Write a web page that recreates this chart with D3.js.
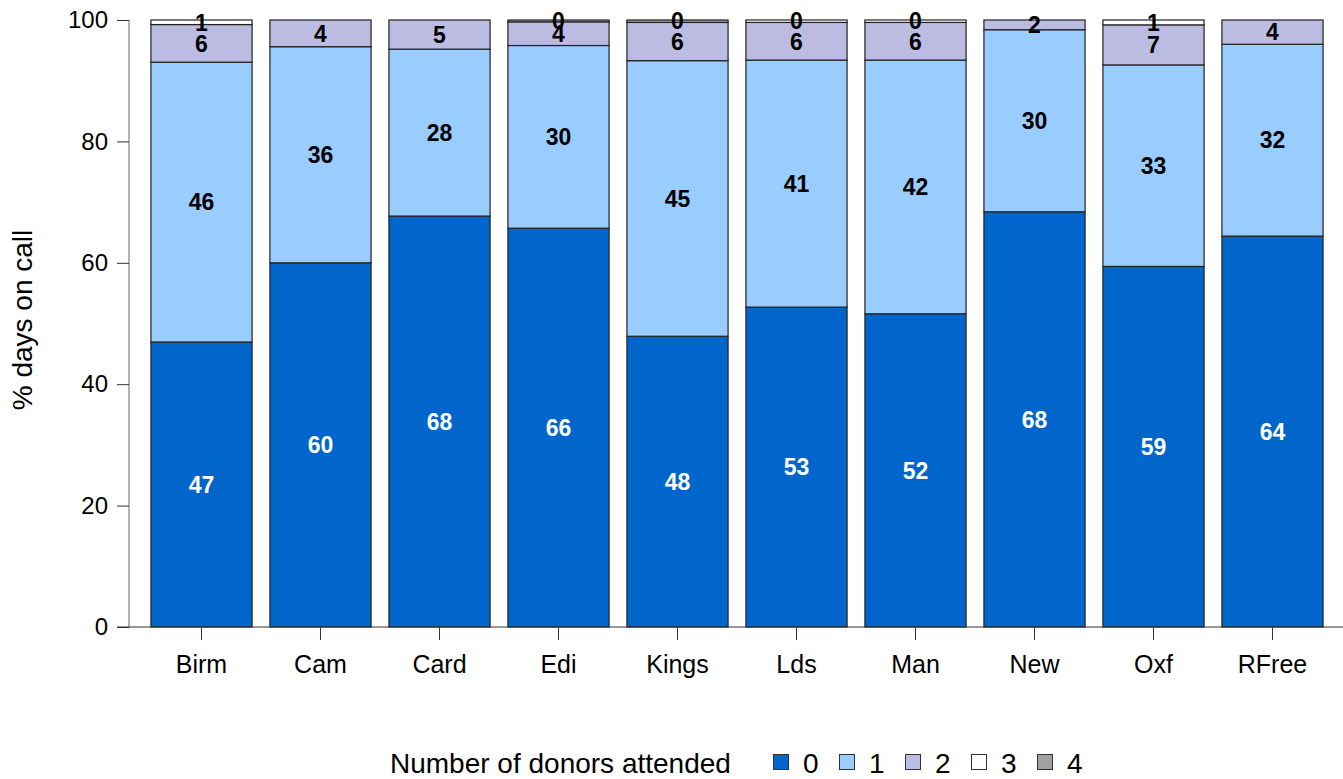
<!DOCTYPE html>
<html>
<head>
<meta charset="utf-8">
<script src="https://cdn.jsdelivr.net/npm/d3@7"></script>
<style>
  body { margin: 0; background: #fff; }
  svg { display: block; font-family: Arial, "Liberation Sans", sans-serif; }
</style>
</head>
<body>
<svg width="1343" height="779"></svg>
<script>
// categories and series (percent of days on call by number of donors attended)
const centres = ["Birm", "Cam", "Card", "Edi", "Kings", "Lds", "Man", "New", "Oxf", "RFree"];
const donors0 = [46.95, 60.0, 67.7, 65.7, 47.9, 52.7, 51.6, 68.4, 59.4, 64.4];
const donors1 = [46.1, 35.6, 27.5, 30.1, 45.4, 40.7, 41.8, 30.0, 33.2, 31.6];
const donors2 = [6.2, 4.4, 4.8, 3.9, 6.3, 6.2, 6.2, 1.6, 6.6, 4.0];
const donors3 = [0.75, 0, 0, 0, 0, 0.4, 0.4, 0, 0.8, 0];
const donors4 = [0, 0, 0, 0.3, 0.4, 0, 0, 0, 0, 0];
const seriesKeys = ["0", "1", "2", "3", "4"];
const seriesColors = ["#0066cc", "#99ccff", "#bcbce2", "#ffffff", "#a0a0a0"];
const yTicks = [0, 20, 40, 60, 80, 100];

const svg = d3.select("svg");

const table = centres.map((c, i) => ({
    centre: c,
    "0": donors0[i], "1": donors1[i], "2": donors2[i], "3": donors3[i], "4": donors4[i]
}));
const stacked = d3.stack().keys(seriesKeys)(table);

const x = d3.scaleBand()
    .domain(centres)
    .range([142, 1332])
    .paddingInner(0.15)
    .paddingOuter(0.075);

const y = d3.scaleLinear()
    .domain([0, 100])
    .range([627, 20]);

// bars
const layers = svg.append("g").selectAll("g")
    .data(stacked)
    .enter().append("g")
    .attr("fill", (d, i) => seriesColors[i]);

layers.selectAll("rect")
    .data(d => d.filter(s => s[1] - s[0] > 0))
    .enter().append("rect")
    .attr("x", d => x(d.data.centre))
    .attr("width", x.bandwidth())
    .attr("y", d => y(d[1]))
    .attr("height", d => y(d[0]) - y(d[1]))
    .attr("stroke", "#222")
    .attr("stroke-width", 1.2);

// value labels
layers.each(function (layer, li) {
    d3.select(this).selectAll("text")
        .data(layer.filter(s => s[1] - s[0] > 0))
        .enter().append("text")
        .attr("x", d => x(d.data.centre) + x.bandwidth() / 2)
        .attr("y", d => (y(d[0]) + y(d[1])) / 2)
        .attr("dy", "0.36em")
        .attr("text-anchor", "middle")
        .attr("font-size", 23)
        .attr("font-weight", "bold")
        .attr("fill", li === 0 ? "#fff" : "#000")
        .text(d => Math.round(d[1] - d[0]));
});

// y axis
const yAxis = svg.append("g")
    .attr("transform", "translate(129,0)")
    .call(d3.axisLeft(y).tickValues(yTicks).tickSize(12).tickPadding(9));
yAxis.select(".domain").attr("stroke", "#666").attr("d", "M0,20V627");
yAxis.selectAll(".tick line").attr("stroke", "#333");
yAxis.selectAll(".tick text").attr("font-size", 24).attr("fill", "#000")
    .attr("font-family", "Arial, 'Liberation Sans', sans-serif");

// x axis
const xAxis = svg.append("g")
    .attr("transform", "translate(0,627)")
    .call(d3.axisBottom(x).tickSize(13).tickPadding(15));
xAxis.select(".domain").attr("stroke", "#333").attr("d", "M117,0H1343");
xAxis.selectAll(".tick line").attr("stroke", "#333");
xAxis.selectAll(".tick text").attr("font-size", 25).attr("fill", "#000")
    .attr("font-family", "Arial, 'Liberation Sans', sans-serif");

// y title
svg.append("text")
    .attr("transform", "translate(32,320) rotate(-90)")
    .attr("text-anchor", "middle")
    .attr("font-size", 28)
    .text("% days on call");

// legend
const legend = svg.append("g").attr("transform", "translate(0,773)");
legend.append("text")
    .attr("x", 390)
    .attr("font-size", 28)
    .text("Number of donors attended");

const legendX = [773, 839, 905, 971, 1037];
const item = legend.selectAll(".item")
    .data(seriesKeys)
    .enter().append("g")
    .attr("class", "item")
    .attr("transform", (d, i) => `translate(${legendX[i]},0)`);
item.append("rect")
    .attr("x", 0.5)
    .attr("y", -18.5)
    .attr("width", 15)
    .attr("height", 15)
    .attr("fill", (d, i) => seriesColors[i])
    .attr("stroke", "#333")
    .attr("stroke-width", 1);
item.append("text")
    .attr("x", 30)
    .attr("font-size", 28)
    .text(d => d);
</script>
</body>
</html>
